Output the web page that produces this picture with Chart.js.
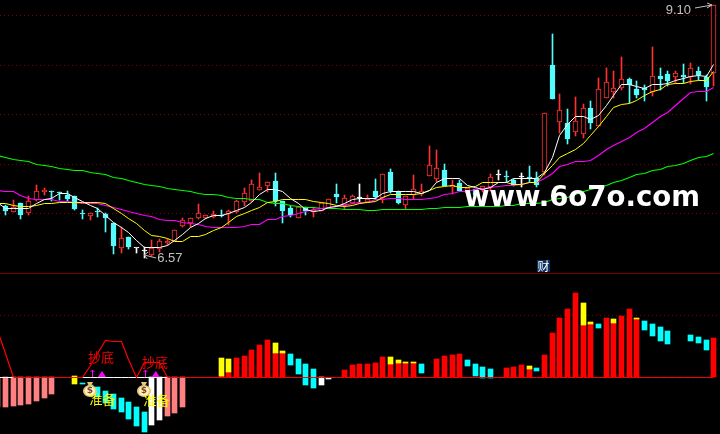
<!DOCTYPE html>
<html>
<head>
<meta charset="utf-8">
<style>
  html, body { margin: 0; padding: 0; background: #000; overflow: hidden; }
  canvas { position: absolute; left: 0; display: block; }
</style>
<script src="https://cdn.jsdelivr.net/npm/chart.js@4"></script>
</head>
<body>
<canvas id="price" width="720" height="273" style="top:0"></canvas>
<canvas id="osc" width="720" height="161" style="top:273px"></canvas>
<script>
const opens = [
  7.12, 7.09, 7.03, 7.12, 7.02, 7.15, 7.23, 7.24, 7.23, 7.20,
  7.19, 7.02, 6.99, 7.04, 7.01, 6.92, 6.67, 6.78, 6.67, 6.64,
  6.60, 6.66, 6.72, 6.74, 6.89, 6.92, 6.97, 6.97, 6.98, 7.00,
  7.01, 7.03, 7.13, 7.14, 7.25, 7.29, 7.34, 7.14, 7.07, 6.97,
  7.08, 7.03, 7.04, 7.07, 7.21, 7.10, 7.12, 7.17, 7.13, 7.24,
  7.17, 7.43, 7.23, 7.10, 7.20, 7.21, 7.39, 7.36, 7.45, 7.28,
  7.32, 7.22, 7.26, 7.25, 7.28, 7.40, 7.39, 7.35, 7.38, 7.38,
  7.37, 7.43, 8.50, 7.93, 7.92, 7.83, 7.81, 8.07, 7.89, 8.17,
  8.23, 8.27, 8.36, 8.26, 8.27, 8.23, 8.39, 8.41, 8.38, 8.40,
  8.38, 8.44, 8.38, 8.42
];
const closes = [
  7.08, 7.04, 7.08, 7.00, 7.14, 7.24, 7.25, 7.23, 7.22, 7.16,
  7.06, 7.01, 7.02, 7.03, 6.97, 6.69, 6.77, 6.68, 6.67, 6.64,
  6.67, 6.74, 6.74, 6.85, 6.95, 6.97, 7.02, 7.00, 7.01, 6.99,
  7.04, 7.14, 7.22, 7.31, 7.28, 7.33, 7.14, 7.04, 7.00, 7.08,
  7.04, 7.05, 7.12, 7.16, 7.18, 7.17, 7.19, 7.17, 7.16, 7.18,
  7.41, 7.24, 7.12, 7.19, 7.26, 7.24, 7.50, 7.47, 7.29, 7.30,
  7.24, 7.27, 7.20, 7.29, 7.38, 7.40, 7.38, 7.30, 7.38, 7.37,
  7.30, 8.02, 8.16, 8.05, 7.76, 7.94, 8.07, 7.92, 8.26, 8.33,
  8.27, 8.36, 8.30, 8.20, 8.25, 8.39, 8.36, 8.34, 8.42, 8.38,
  8.47, 8.40, 8.28, 9.10
];
const highs = [
  7.14, 7.10, 7.15, 7.12, 7.19, 7.30, 7.27, 7.24, 7.23, 7.24,
  7.19, 7.05, 7.02, 7.07, 7.02, 6.92, 6.88, 6.78, 6.67, 6.68,
  6.75, 6.76, 6.76, 6.85, 6.97, 6.97, 7.11, 7.00, 7.04, 7.05,
  7.05, 7.15, 7.27, 7.35, 7.42, 7.33, 7.42, 7.14, 7.09, 7.08,
  7.08, 7.07, 7.12, 7.16, 7.31, 7.20, 7.20, 7.31, 7.20, 7.36,
  7.41, 7.46, 7.24, 7.19, 7.40, 7.31, 7.69, 7.65, 7.51, 7.35,
  7.35, 7.27, 7.26, 7.29, 7.41, 7.45, 7.44, 7.36, 7.42, 7.49,
  7.43, 8.02, 8.81, 8.21, 8.06, 8.18, 8.11, 8.14, 8.37, 8.47,
  8.44, 8.58, 8.37, 8.34, 8.30, 8.68, 8.47, 8.44, 8.44, 8.51,
  8.52, 8.48, 8.40, 9.10
];
const lows = [
  7.06, 7.00, 7.03, 6.96, 7.00, 7.14, 7.20, 7.14, 7.15, 7.14,
  7.05, 6.96, 6.95, 6.98, 6.83, 6.61, 6.62, 6.66, 6.62, 6.57,
  6.59, 6.63, 6.70, 6.74, 6.88, 6.88, 6.96, 6.96, 6.97, 6.98,
  6.90, 7.02, 7.09, 7.13, 7.25, 7.23, 7.09, 6.92, 6.98, 6.97,
  7.00, 6.98, 7.04, 7.07, 7.12, 7.06, 7.11, 7.12, 7.13, 7.15,
  7.12, 7.22, 7.11, 7.06, 7.16, 7.19, 7.39, 7.33, 7.29, 7.21,
  7.24, 7.18, 7.17, 7.23, 7.24, 7.35, 7.33, 7.29, 7.28, 7.33,
  7.28, 7.40, 8.16, 7.82, 7.71, 7.79, 7.77, 7.86, 7.89, 8.17,
  8.17, 8.25, 8.12, 8.17, 8.14, 8.19, 8.25, 8.29, 8.32, 8.32,
  8.31, 8.35, 8.14, 8.29
];
const ma5 = [
  7.13, 7.07, 7.07, 7.07, 7.07, 7.11, 7.15, 7.17, 7.22, 7.22, 7.18, 7.14, 7.10, 7.07, 7.00, 6.93,
  6.88, 6.82, 6.75, 6.68, 6.68, 6.68, 6.69, 6.75, 6.81, 6.87, 6.92, 6.97, 7.00, 7.00, 7.02, 7.05,
  7.08, 7.13, 7.20, 7.26, 7.26, 7.23, 7.17, 7.11, 7.06, 7.04, 7.05, 7.08, 7.09, 7.12, 7.16, 7.17,
  7.17, 7.17, 7.22, 7.23, 7.23, 7.23, 7.23, 7.22, 7.25, 7.33, 7.36, 7.36, 7.36, 7.30, 7.28,
  7.26, 7.28, 7.33, 7.32, 7.36, 7.37, 7.36, 7.36, 7.43, 7.57, 7.80, 7.90, 7.98, 7.98, 7.96, 8.00,
  8.10, 8.20, 8.30, 8.30, 8.29, 8.27, 8.30, 8.30, 8.31, 8.35, 8.37, 8.38, 8.39, 8.38, 8.51
];
const ma10 = [
  7.11, 7.11, 7.10, 7.09, 7.09, 7.10, 7.11, 7.12, 7.13, 7.13, 7.13, 7.13, 7.13, 7.13, 7.12, 7.07,
  7.02, 6.97, 6.92, 6.85, 6.80, 6.78, 6.77, 6.74, 6.74, 6.78, 6.78, 6.81, 6.85, 6.88, 6.93, 6.98,
  7.02, 7.05, 7.08, 7.13, 7.14, 7.15, 7.15, 7.16, 7.16, 7.14, 7.13, 7.12, 7.10, 7.09, 7.10, 7.11,
  7.13, 7.14, 7.18, 7.20, 7.20, 7.20, 7.20, 7.22, 7.25, 7.28, 7.29, 7.30, 7.28, 7.28, 7.29,
  7.32, 7.33, 7.33, 7.32, 7.31, 7.31, 7.32, 7.33, 7.42, 7.50, 7.58, 7.62, 7.66, 7.72, 7.80, 7.89,
  7.98, 8.08, 8.11, 8.12, 8.14, 8.20, 8.23, 8.26, 8.30, 8.32, 8.32, 8.34, 8.35, 8.35, 8.44
];
const ma30 = [
  7.25, 7.24, 7.23, 7.19, 7.17, 7.15, 7.15, 7.15, 7.14, 7.14, 7.13, 7.12, 7.12, 7.11, 7.10, 7.08,
  7.06, 7.04, 7.02, 7.00, 6.98, 6.96, 6.94, 6.94, 6.93, 6.92, 6.90, 6.89, 6.88, 6.87, 6.87, 6.88,
  6.89, 6.90, 6.91, 6.95, 6.96, 6.98, 7.00, 7.02, 7.03, 7.06, 7.07, 7.08, 7.09, 7.10, 7.12, 7.13,
  7.13, 7.15, 7.16, 7.17, 7.17, 7.16, 7.16, 7.15, 7.17, 7.18, 7.20, 7.22, 7.23, 7.23, 7.26,
  7.27, 7.28, 7.29, 7.30, 7.30, 7.31, 7.32, 7.32, 7.37, 7.42, 7.48, 7.51, 7.53, 7.54, 7.55, 7.60,
  7.65, 7.70, 7.73, 7.78, 7.82, 7.87, 7.93, 7.98, 8.03, 8.10, 8.17, 8.22, 8.23, 8.23, 8.28
];
const ma60 = [
  7.60, 7.58, 7.56, 7.55, 7.53, 7.51, 7.50, 7.49, 7.47, 7.46, 7.45, 7.44, 7.43, 7.42, 7.40, 7.38,
  7.37, 7.35, 7.33, 7.31, 7.30, 7.29, 7.27, 7.26, 7.25, 7.24, 7.22, 7.21, 7.20, 7.19, 7.18, 7.17,
  7.17, 7.16, 7.15, 7.13, 7.12, 7.12, 7.10, 7.09, 7.08, 7.08, 7.07, 7.07, 7.07, 7.06, 7.06, 7.06,
  7.05, 7.05, 7.06, 7.06, 7.06, 7.06, 7.06, 7.06, 7.07, 7.07, 7.08, 7.08, 7.08, 7.09, 7.09,
  7.09, 7.09, 7.09, 7.10, 7.10, 7.11, 7.12, 7.12, 7.13, 7.15, 7.17, 7.18, 7.20, 7.23, 7.26, 7.28,
  7.30, 7.32, 7.35, 7.38, 7.40, 7.42, 7.44, 7.46, 7.48, 7.50, 7.52, 7.55, 7.57, 7.59, 7.62
];
const priceGrid = [9.0, 8.5, 8.01, 7.51, 7.02];
const oscGrid = [62];

// lower panel: p pink, y yellow, c cyan, w white, r red, empty = no bar
const oscKind = [
  'p','p','p','p','p','p','p','p','','',
  'y','c','c','c','c','c','c','c','c','c',
  'w','w','p','p','p','','','','','r',
  'r','r','r','r','r','r','r','r','c','c',
  'c','c','w','w','','r','r','r','r','r',
  'r','r','r','r','r','c','','r','r','r',
  'r','c','c','c','c','','r','r','r','r',
  'c','r','r','r','r','r','r','r','c','r',
  'r','r','r','r','c','c','c','c','','',
  'c','c','c','r'
];
const oscLow = [
  -30, -30, -29, -28, -27, -24, -21, -17, null, null,
  -7, -7, -17, -20, -26, -32, -35, -42, -49, -55,
  -48, -43, -39, -36, -30, null, null, null, null, 0,
  0, 0, 0, 0, 0, 0, 0, 0, 12, 3,
  -8, -11, -8, -2, null, 0, 0, 0, 0, 0,
  0, 0, 0, 0, 0, 4, null, 0, 0, 0,
  0, 11, 1, -1, -1, null, 0, 0, 0, 0,
  6, 0, 0, 0, 0, 0, 0, 0, 49, 0,
  0, 0, 0, 0, 47, 41, 36, 33, null, null,
  36, 34, 27, 0
];
const oscHigh = [
  0, 0, 0, 0, 0, 0, 0, 0, null, null,
  1, -6, -8, -10, -14, -17, -21, -25, -30, -35,
  0, 0, 0, 0, 0, null, null, null, null, 1,
  5, 19, 21, 27, 32, 37, 24, 24, 23, 18,
  13, 8, 0, -1, null, 7, 12, 13, 13, 14,
  20, 13, 14, 14, 14, 13, null, 18, 21, 22,
  23, 17, 13, 10, 8, null, 9, 10, 12, 8,
  9, 22, 44, 59, 68, 84, 52, 53, 53, 59,
  54, 61, 68, 58, 56, 53, 50, 46, null, null,
  42, 40, 37, 39
];
// yellow cap on top of some red bars
const oscCap = [
  null, null, null, null, null, null, null, null, null, null,
  null, null, null, null, null, null, null, null, null, null,
  null, null, null, null, null, null, null, null, null, 19,
  18, null, null, null, null, null, 34, 26, null, null,
  null, null, null, null, null, null, null, null, null, null,
  null, 20, 17, 15, 15, null, null, null, null, null,
  null, null, null, null, null, null, null, null, null, 11,
  null, null, null, null, null, null, 74, 55, null, null,
  58, null, null, 59, null, null, null, null, null, null,
  null, null, null, null
];
const bottomSignal = [
  47, 23, 0, null, null, null, null, null, null, null,
  null, 0, 12, 24, 37, 36, 36, 18, 0, 14,
  14, 14, 0
];
const zeroWhite = [0, 0, 0, null, null, null, null, null, null, null, null,
  0, 0, 0, 0, 0, 0, 0, 0, 0, 0, 0, 0];

const candleColor = i => closes[i] > opens[i] ? '#ff3232' : closes[i] < opens[i] ? '#54fcfc' : '#ffffff';
const oscColors = { p: '#ff8080', y: '#ffff00', c: '#00ffff', w: '#ffffff', r: '#ff0000', '': '#000' };
const series = arr => arr.map((v, i) => ({ x: i, y: v }));
const xAxis = () => ({ type: 'linear', display: false, offset: false, min: 0.273, max: 93.78 });

// the original is drawn on whole pixels, so snap the elements after the scales placed them
const snap = {
  id: 'snap',
  afterDatasetsUpdate(chart) {
    chart.getSortedVisibleDatasetMetas().forEach(meta => {
      meta.data.forEach(el => {
        el.x = Math.floor(el.x) + 0.5;
        if (meta.type === 'bar') {
          el.y = Math.round(el.y);
          el.base = Math.round(el.base);
          if (el.y === el.base) el.base = el.y + 1;
        } else {
          el.y = Math.floor(el.y) + 0.5;
        }
      });
    });
  }
};

// dark red dotted levels, the top one of the lower panel is the solid separator
const levels = {
  id: 'levels',
  beforeDatasetsDraw(chart) {
    const { ctx, scales } = chart;
    ctx.save();
    ctx.strokeStyle = '#800000';
    ctx.lineWidth = 1;
    scales.y.ticks.forEach(t => {
      const py = Math.floor(scales.y.getPixelForValue(t.value)) + 0.5;
      ctx.setLineDash(t.value === scales.y.max ? [] : [1, 3]);
      ctx.beginPath();
      ctx.moveTo(0, py);
      ctx.lineTo(720, py);
      ctx.stroke();
    });
    ctx.restore();
  }
};

const priceNotes = {
  id: 'priceNotes',
  afterDraw(chart) {
    const { ctx, scales } = chart;
    const x = scales.x, y = scales.y;
    ctx.save();
    // high and low marks
    ctx.font = '13px "Liberation Sans"';
    ctx.fillStyle = '#c0c0c0';
    ctx.strokeStyle = '#c0c0c0';
    ctx.lineWidth = 1;
    ctx.textBaseline = 'middle';
    ctx.textAlign = 'right';
    const hx = x.getPixelForValue(93), hy = y.getPixelForValue(9.10);
    ctx.fillText('9.10', hx - 23, hy + 5);
    ctx.beginPath();
    ctx.moveTo(hx - 19, hy + 3); ctx.lineTo(hx - 2, hy);
    ctx.moveTo(hx - 7, hy - 2); ctx.lineTo(hx - 2, hy); ctx.lineTo(hx - 7, hy + 3);
    ctx.stroke();
    ctx.textAlign = 'left';
    const lx = x.getPixelForValue(19), ly = y.getPixelForValue(6.57);
    ctx.fillText('6.57', lx + 13, ly);
    ctx.beginPath();
    ctx.moveTo(lx + 12, ly); ctx.lineTo(lx, ly - 3);
    ctx.moveTo(lx + 4, ly - 6); ctx.lineTo(lx, ly - 3); ctx.lineTo(lx + 3, ly + 1);
    ctx.stroke();

    // little tab above the separator
    ctx.fillStyle = '#0a3060';
    ctx.fillRect(537, 260, 13, 12);
    ctx.fillStyle = '#fff';
    ctx.textAlign = 'center';
    ctx.font = '12px "Noto Sans CJK SC"';
    ctx.fillText('财', 543.5, 266);

    // watermark
    ctx.font = 'bold 28px "DejaVu Sans"';
    ctx.textAlign = 'left';
    ctx.textBaseline = 'alphabetic';
    ctx.fillStyle = '#ffffff';
    ctx.fillText('www.6o7o.com', 464, 206, 236);
    ctx.restore();
  }
};

function moneyBag(ctx, cx, cy) {
  ctx.fillStyle = '#e8c878';
  ctx.beginPath();
  ctx.moveTo(cx - 3, cy - 8); ctx.lineTo(cx + 3, cy - 8); ctx.lineTo(cx + 1, cy - 4); ctx.lineTo(cx - 1, cy - 4);
  ctx.closePath();
  ctx.fill();
  ctx.beginPath();
  ctx.ellipse(cx, cy + 1, 7, 6, 0, 0, Math.PI * 2);
  ctx.fill();
  ctx.fillStyle = '#fff4c8';
  ctx.beginPath();
  ctx.ellipse(cx, cy + 1, 5, 4.5, 0, 0, Math.PI * 2);
  ctx.fill();
  ctx.fillStyle = '#804020';
  ctx.font = 'bold 9px "DejaVu Sans"';
  ctx.textAlign = 'center';
  ctx.textBaseline = 'middle';
  ctx.fillText('$', cx, cy + 1);
}

const oscNotes = {
  id: 'oscNotes',
  afterDraw(chart) {
    const { ctx, scales } = chart;
    const x = scales.x, y = scales.y;
    const zero = y.getPixelForValue(0);
    ctx.save();
    [[12.35, 13.52, 11.96], [19.2, 20.5, 18.97]].forEach(([arrow, tri, bag]) => {
      const ax = Math.floor(x.getPixelForValue(arrow)) + 0.5;
      const tx = x.getPixelForValue(tri);
      ctx.strokeStyle = '#ff00ff';
      ctx.lineWidth = 1;
      ctx.beginPath();
      ctx.moveTo(ax, zero); ctx.lineTo(ax, zero - 7);
      ctx.moveTo(ax - 2, zero - 5); ctx.lineTo(ax, zero - 7); ctx.lineTo(ax + 2, zero - 5);
      ctx.stroke();
      ctx.fillStyle = '#ff00ff';
      ctx.beginPath();
      ctx.moveTo(tx - 4, zero); ctx.lineTo(tx, zero - 6); ctx.lineTo(tx + 4, zero);
      ctx.closePath();
      ctx.fill();
      moneyBag(ctx, x.getPixelForValue(bag), y.getPixelForValue(-13));
    });
    ctx.font = '13px "Noto Sans CJK SC"';
    ctx.textAlign = 'center';
    ctx.textBaseline = 'middle';
    ctx.fillStyle = '#f00000';
    ctx.fillText('抄底', x.getPixelForValue(13.4), y.getPixelForValue(20));
    ctx.fillText('抄底', x.getPixelForValue(20.4), y.getPixelForValue(15));
    ctx.fillStyle = '#ffff00';
    ctx.fillText('准备', x.getPixelForValue(13.6), y.getPixelForValue(-22));
    ctx.fillText('准备', x.getPixelForValue(20.6), y.getPixelForValue(-23));
    ctx.restore();
  }
};

new Chart(document.getElementById('price'), {
  type: 'bar',
  data: {
    datasets: [
      { type: 'line', data: series(ma5), borderColor: '#ffffff', borderWidth: 1, pointRadius: 0, order: 1 },
      { type: 'line', data: series(ma10), borderColor: '#ffff00', borderWidth: 1, pointRadius: 0, order: 2 },
      { type: 'line', data: series(ma30), borderColor: '#ff00ff', borderWidth: 1.2, pointRadius: 0, order: 3 },
      { type: 'line', data: series(ma60), borderColor: '#00ff00', borderWidth: 1.2, pointRadius: 0, order: 4 },
      {
        data: opens.map((o, i) => ({ x: i, y: [Math.min(o, closes[i]), Math.max(o, closes[i])] })),
        backgroundColor: opens.map((o, i) => closes[i] > o ? '#000000' : candleColor(i)),
        borderColor: opens.map((o, i) => candleColor(i)),
        borderWidth: 1, borderSkipped: false, barThickness: 5, minBarLength: 1, grouped: false, order: 5
      },
      {
        data: highs.map((h, i) => ({ x: i, y: [lows[i], h] })),
        backgroundColor: highs.map((h, i) => candleColor(i)),
        barThickness: 1, grouped: false, order: 6
      }
    ]
  },
  options: {
    responsive: false,
    animation: false,
    devicePixelRatio: 1,
    layout: { padding: 0 },
    plugins: { legend: { display: false }, tooltip: { enabled: false } },
    scales: {
      x: xAxis(),
      y: {
        min: 6.42, max: 9.15,
        afterBuildTicks: axis => { axis.ticks = priceGrid.map(v => ({ value: v })); },
        ticks: { display: false },
        border: { display: false },
        grid: { display: false, drawTicks: false }
      }
    }
  },
  plugins: [snap, levels, priceNotes]
});

new Chart(document.getElementById('osc'), {
  type: 'bar',
  data: {
    datasets: [
      { type: 'line', data: series(bottomSignal), borderColor: '#ff0000', borderWidth: 1.2, pointRadius: 0, order: 1 },
      { type: 'line', data: series(zeroWhite), borderColor: '#ffffff', borderWidth: 1, pointRadius: 0, order: 2 },
      { type: 'line', data: series(oscKind.map(() => 0)), borderColor: '#ff0000', borderWidth: 1, pointRadius: 0, order: 3 },
      {
        data: oscCap.map((v, i) => ({ x: i, y: v === null ? null : [oscHigh[i], v] })),
        backgroundColor: '#ffff00', barThickness: 5, grouped: false, order: 4
      },
      {
        data: oscLow.map((v, i) => ({ x: i, y: v === null ? null : [v, oscHigh[i]] })),
        backgroundColor: oscKind.map(k => oscColors[k]), barThickness: 5, grouped: false, order: 5
      }
    ]
  },
  options: {
    responsive: false,
    animation: false,
    devicePixelRatio: 1,
    layout: { padding: 0 },
    plugins: { legend: { display: false }, tooltip: { enabled: false } },
    scales: {
      x: xAxis(),
      y: {
        min: -57, max: 104,
        afterBuildTicks: axis => { axis.ticks = oscGrid.concat(104).map(v => ({ value: v })); },
        ticks: { display: false },
        border: { display: false },
        grid: { display: false, drawTicks: false }
      }
    }
  },
  plugins: [snap, levels, oscNotes]
});
</script>
</body>
</html>
